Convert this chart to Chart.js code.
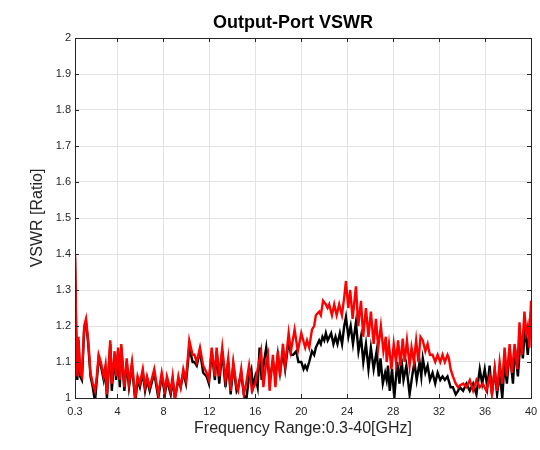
<!DOCTYPE html>
<html>
<head>
<meta charset="utf-8">
<script src="https://cdn.jsdelivr.net/npm/chart.js@4/dist/chart.umd.min.js"></script>
<style>
  html, body { margin: 0; padding: 0; background: #fff; }
  #wrap { width: 540px; height: 450px; }
</style>
</head>
<body>
<div id="wrap"><canvas id="vswrChart"></canvas></div>
<script>
// tick positions
const xTicks = [0.3, 4, 8, 12, 16, 20, 24, 28, 32, 36, 40];
const yTicks = [1, 1.1, 1.2, 1.3, 1.4, 1.5, 1.6, 1.7, 1.8, 1.9, 2];

// red trace
const redFreq = [0.3, 0.4, 0.5, 0.6, 0.75, 0.9, 1.1, 1.26, 1.45, 1.65, 1.85, 2.04, 2.2, 2.36, 2.55, 2.8, 2.95, 3.08, 3.37, 3.5,
  3.75, 3.88, 4.05, 4.2, 4.33, 4.6, 4.8, 5.0, 5.26, 5.55, 5.75, 5.95, 6.2, 6.4, 6.57, 6.8, 7.2, 7.55, 7.85, 8.13,
  8.3, 8.63, 8.8, 9.0, 9.3, 9.5, 9.73, 9.96, 10.25, 10.54, 10.7, 10.9, 11.18, 11.46, 11.76, 11.96, 12.2, 12.48, 12.63, 12.86,
  13.12, 13.4, 13.64, 13.85, 14.08, 14.37, 14.5, 14.77, 15.0, 15.2, 15.45, 15.7, 16.0, 16.2, 16.5, 16.7, 16.95, 17.1, 17.24, 17.53,
  17.75, 17.96, 18.15, 18.4, 18.6, 18.9, 19.1, 19.42, 19.7, 20.0, 20.34, 20.5, 20.69, 20.93, 21.12, 21.27, 21.56, 21.7, 21.9, 22.14,
  22.29, 22.43, 22.67, 22.87, 23.08, 23.3, 23.54, 23.74, 23.89, 24.09, 24.26, 24.47, 24.76, 24.96, 25.2, 25.39, 25.63, 25.85, 26.06, 26.3,
  26.5, 26.7, 26.93, 27.15, 27.36, 27.43, 27.63, 27.85, 28.05, 28.25, 28.43, 28.63, 28.83, 29.0, 29.2, 29.43, 29.6, 29.8, 30.0, 30.2,
  30.38, 30.58, 30.8, 31.0, 31.2, 31.43, 31.66, 31.87, 32.1, 32.3, 32.5, 32.73, 32.85, 33.0, 33.2, 33.45, 33.65, 33.8, 34.09, 34.38,
  34.67, 34.96, 35.25, 35.54, 35.8, 36.11, 36.4, 36.6, 36.84, 37.05, 37.27, 37.5, 37.7, 37.9, 38.14, 38.35, 38.57, 38.8, 39.0, 39.2,
  39.43, 39.58, 39.72, 39.86, 40.0];
const redVswr = [1.40, 1.20, 1.06, 1.17, 1.07, 1.06, 1.20, 1.22, 1.16, 1.07, 1.04, 1.02, 1.06, 1.12, 1.10, 1.06, 1.09, 1.01, 1.16, 1.04,
  1.13, 1.06, 1.14, 1.05, 1.15, 1.03, 1.11, 1.04, 1.10, 1.00, 1.06, 1.04, 1.08, 1.03, 1.06, 1.03, 1.08, 1.01, 1.07, 1.02,
  1.06, 1.02, 1.06, 0.995, 1.06, 1.03, 1.08, 1.05, 1.16, 1.12, 1.12, 1.10, 1.14, 1.09, 1.07, 1.05, 1.14, 1.06, 1.14, 1.06,
  1.14, 1.05, 1.11, 1.02, 1.10, 1.03, 1.02, 1.08, 1.01, 1.04, 1.09, 1.02, 1.04, 1.08, 1.13, 1.03, 1.10, 1.12, 1.02, 1.12,
  1.03, 1.13, 1.06, 1.15, 1.09, 1.18, 1.13, 1.19, 1.13, 1.18, 1.14, 1.16, 1.14, 1.19, 1.20, 1.23, 1.24, 1.23, 1.27, 1.26,
  1.25, 1.26, 1.23, 1.26, 1.23, 1.26, 1.23, 1.28, 1.325, 1.25, 1.30, 1.22, 1.31, 1.20, 1.27, 1.17, 1.25, 1.17, 1.24, 1.15,
  1.22, 1.14, 1.20, 1.13, 1.17, 1.10, 1.15, 1.08, 1.15, 1.10, 1.16, 1.09, 1.165, 1.10, 1.16, 1.09, 1.14, 1.10, 1.16, 1.10,
  1.17, 1.16, 1.13, 1.15, 1.12, 1.12, 1.10, 1.12, 1.10, 1.12, 1.10, 1.12, 1.11, 1.08, 1.06, 1.04, 1.03, 1.035, 1.04, 1.03,
  1.05, 1.02, 1.05, 1.03, 1.04, 1.02, 1.06, 1.01, 1.08, 1.02, 1.10, 1.04, 1.14, 1.06, 1.15, 1.07, 1.15, 1.08, 1.21, 1.12,
  1.24, 1.18, 1.20, 1.14, 1.27];

// black trace
const blackFreq = [0.3, 0.4, 0.5, 0.6, 0.75, 0.9, 1.1, 1.26, 1.45, 1.65, 1.85, 2.04, 2.2, 2.36, 2.55, 2.8, 2.95, 3.08, 3.37, 3.5,
  3.75, 3.88, 4.05, 4.2, 4.33, 4.6, 4.8, 5.0, 5.26, 5.55, 5.75, 5.95, 6.2, 6.4, 6.57, 6.8, 7.2, 7.55, 7.85, 8.13,
  8.3, 8.63, 8.8, 9.0, 9.3, 9.5, 9.73, 9.96, 10.25, 10.54, 10.7, 10.9, 11.18, 11.46, 11.76, 11.96, 12.2, 12.48, 12.63, 12.86,
  13.12, 13.4, 13.64, 13.85, 14.08, 14.37, 14.5, 14.77, 15.0, 15.2, 15.45, 15.65, 15.8, 16.0, 16.2, 16.37, 16.55, 16.75, 16.95, 17.24,
  17.53, 17.75, 17.96, 18.15, 18.4, 18.6, 18.9, 19.1, 19.3, 19.56, 19.75, 20.0, 20.2, 20.34, 20.5, 20.69, 20.93, 21.12, 21.27, 21.56,
  21.7, 21.85, 22.0, 22.14, 22.3, 22.6, 22.8, 22.98, 23.15, 23.36, 23.55, 23.74, 23.89, 24.1, 24.3, 24.5, 24.76, 24.98, 25.2, 25.4,
  25.63, 25.85, 26.06, 26.3, 26.56, 26.75, 26.9, 27.1, 27.3, 27.43, 27.55, 27.7, 27.9, 28.1, 28.35, 28.55, 28.72, 28.9, 29.15, 29.43,
  29.65, 29.85, 30.05, 30.3, 30.45, 30.58, 30.8, 31.0, 31.2, 31.43, 31.66, 31.87, 32.1, 32.3, 32.5, 32.73, 33.0, 33.2, 33.45, 33.65,
  33.8, 34.09, 34.38, 34.67, 34.96, 35.25, 35.54, 35.75, 35.97, 36.2, 36.4, 36.6, 36.84, 37.05, 37.27, 37.5, 37.7, 37.9, 38.14, 38.43,
  38.6, 38.86, 39.1, 39.29, 39.5, 39.72, 40.0];
const blackVswr = [1.39, 1.18, 1.05, 1.16, 1.06, 1.05, 1.19, 1.21, 1.15, 1.06, 1.03, 0.99, 1.05, 1.11, 1.09, 1.05, 1.08, 1.00, 1.15, 1.02,
  1.12, 1.05, 1.13, 1.03, 1.14, 1.02, 1.10, 1.03, 1.09, 0.99, 1.05, 1.03, 1.07, 1.02, 1.05, 1.02, 1.07, 1.00, 1.06, 1.01,
  1.05, 1.01, 1.05, 1.00, 1.05, 1.03, 1.07, 1.04, 1.14, 1.10, 1.10, 1.09, 1.13, 1.07, 1.06, 1.04, 1.13, 1.05, 1.13, 1.04,
  1.13, 1.03, 1.10, 1.01, 1.09, 1.02, 1.03, 1.07, 1.01, 0.99, 1.06, 1.08, 1.03, 1.06, 1.03, 1.14, 1.05, 1.10, 1.14, 1.05,
  1.10, 1.06, 1.12, 1.07, 1.13, 1.08, 1.16, 1.12, 1.12, 1.13, 1.10, 1.10, 1.08, 1.09, 1.08, 1.10, 1.13, 1.12, 1.14, 1.16,
  1.15, 1.17, 1.16, 1.18, 1.16, 1.18, 1.15, 1.17, 1.15, 1.18, 1.15, 1.20, 1.225, 1.17, 1.20, 1.15, 1.21, 1.13, 1.17, 1.10,
  1.15, 1.08, 1.14, 1.08, 1.13, 1.06, 1.11, 1.04, 1.07, 1.05, 1.09, 1.02, 1.08, 1.00, 1.10, 1.04, 1.11, 1.05, 1.09, 1.01,
  1.06, 1.10, 1.05, 1.10, 1.06, 1.11, 1.07, 1.09, 1.05, 1.07, 1.04, 1.07, 1.05, 1.06, 1.05, 1.06, 1.03, 1.03, 1.01, 1.02,
  1.03, 1.02, 1.04, 1.02, 1.04, 1.01, 1.08, 1.04, 1.08, 1.03, 1.09, 1.01, 1.08, 1.01, 1.07, 1.00, 1.10, 1.04, 1.13, 1.04,
  1.14, 1.06, 1.17, 1.11, 1.20, 1.12, 1.24];

const toPoints = (xs, ys) => xs.map((x, i) => ({x: x, y: ys[i]}));

// box round the plot, inward tick marks and the title (MATLAB style)
const axesBox = {
    id: 'axesBox',
    afterDraw(chart) {
        const {ctx, chartArea: a, scales} = chart;
        ctx.save();
        ctx.strokeStyle = '#262626';
        ctx.lineWidth = 1;
        ctx.strokeRect(a.left + 0.5, a.top + 0.5, a.right - a.left, a.bottom - a.top);
        ctx.beginPath();
        xTicks.forEach(v => {
            const px = Math.round(scales.x.getPixelForValue(v)) + 0.5;
            ctx.moveTo(px, a.bottom); ctx.lineTo(px, a.bottom - 4);
            ctx.moveTo(px, a.top); ctx.lineTo(px, a.top + 4);
        });
        yTicks.forEach(v => {
            const py = Math.round(scales.y.getPixelForValue(v)) + 0.5;
            ctx.moveTo(a.left, py); ctx.lineTo(a.left + 4, py);
            ctx.moveTo(a.right, py); ctx.lineTo(a.right - 4, py);
        });
        ctx.stroke();
        ctx.fillStyle = '#000';
        ctx.font = 'bold 18px "Liberation Sans", Arial, sans-serif';
        ctx.textAlign = 'center';
        ctx.textBaseline = 'middle';
        ctx.fillText('Output-Port VSWR', 293, 23);
        ctx.restore();
    }
};

new Chart(document.getElementById('vswrChart'), {
    type: 'scatter',
    data: {
        datasets: [{
            label: 'red',
            data: toPoints(redFreq, redVswr),
            borderColor: '#ff0000',
            backgroundColor: '#ff0000',
            borderWidth: 2.4,
            showLine: true,
            pointRadius: 0,
            tension: 0
        }, {
            label: 'black',
            data: toPoints(blackFreq, blackVswr),
            borderColor: '#000000',
            backgroundColor: '#000000',
            borderWidth: 2.4,
            showLine: true,
            pointRadius: 0,
            tension: 0
        }]
    },
    options: {
        responsive: true,
        maintainAspectRatio: false,
        animation: false,
        layout: { padding: { top: 38, right: 9, left: 0, bottom: 0 } },
        plugins: { legend: { display: false }, tooltip: { enabled: false } },
        scales: {
            x: {
                type: 'linear',
                min: 0.3,
                max: 40,
                afterBuildTicks: s => { s.ticks = xTicks.map(v => ({value: v})); },
                afterFit: s => { s.height = 52; s.paddingLeft = 0; s.paddingRight = 0; },
                grid: { color: '#e3e3e3', drawTicks: false },
                border: { display: false },
                ticks: {
                    padding: 7,
                    color: '#262626',
                    font: { family: '"Liberation Sans", Arial, sans-serif', size: 11 },
                    callback: v => String(v)
                },
                title: {
                    display: true,
                    text: 'Frequency Range:0.3-40[GHz]',
                    color: '#262626',
                    padding: { top: 0, bottom: 12 },
                    font: { family: '"Liberation Sans", Arial, sans-serif', size: 16 }
                }
            },
            y: {
                min: 1,
                max: 2,
                afterBuildTicks: s => { s.ticks = yTicks.map(v => ({value: v})); },
                afterFit: s => { s.width = 75; s.paddingTop = 0; s.paddingBottom = 0; },
                grid: { color: '#e3e3e3', drawTicks: false },
                border: { display: false },
                ticks: {
                    padding: 4,
                    color: '#262626',
                    font: { family: '"Liberation Sans", Arial, sans-serif', size: 11 },
                    callback: v => String(Number(v.toFixed(1)))
                },
                title: {
                    display: true,
                    text: 'VSWR [Ratio]',
                    color: '#262626',
                    padding: { top: 28, bottom: 0 },
                    font: { family: '"Liberation Sans", Arial, sans-serif', size: 16 }
                }
            }
        }
    },
    plugins: [axesBox]
});
</script>
</body>
</html>
